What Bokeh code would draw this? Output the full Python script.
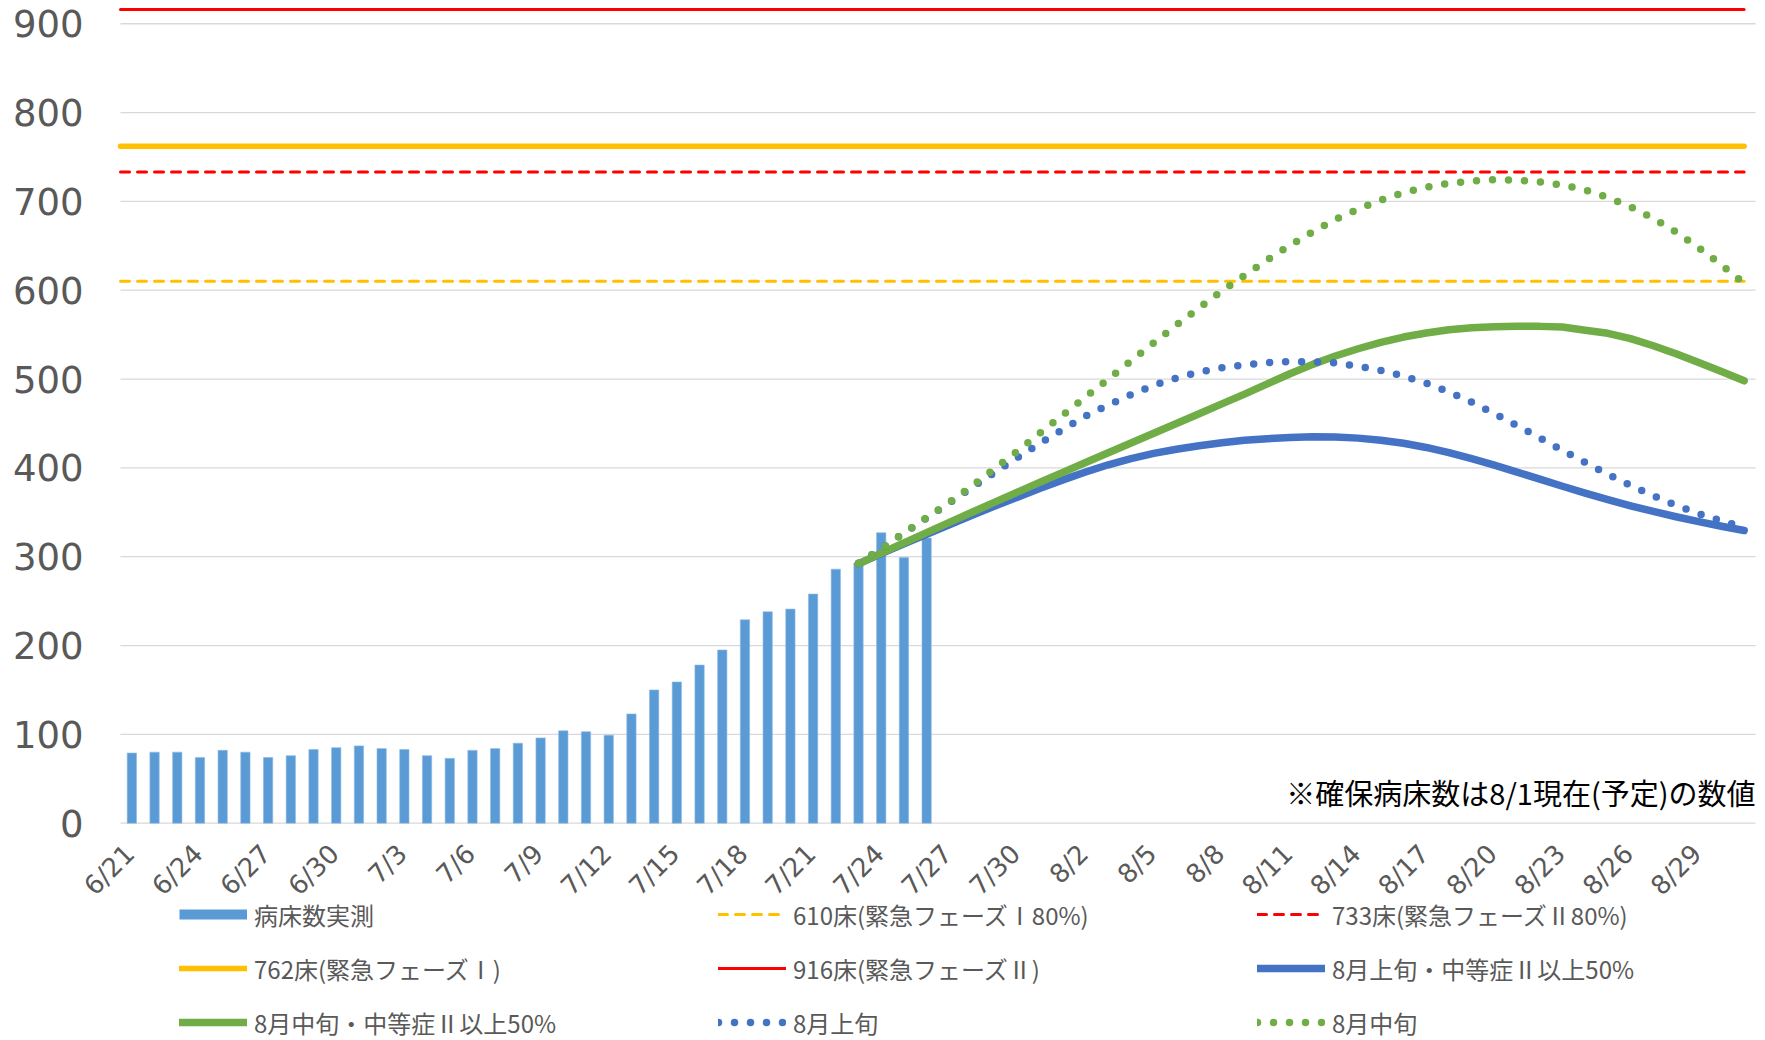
import math
import pandas as pd
from bokeh.plotting import figure
from bokeh.models import Range1d, Legend, LegendItem, Label
from bokeh.core.properties import value
from bokeh.embed import file_html
from bokeh.resources import INLINE

LATIN = "DejaVu Sans"
CJK = "Noto Sans CJK JP"

# ---- data ----
dates = [f"{d.month}/{d.day}" for d in pd.date_range("2021-06-21", "2021-08-31")]
shown_labels = dates[::3]

bed_dates = dates[:36]
beds = [79, 80, 80, 74, 82, 80, 74, 76, 83, 85, 87, 84, 83, 76, 73, 82, 84, 90,
        96, 104, 103, 99, 123, 150, 159, 178, 195, 229, 238, 241, 258, 286, 293,
        327, 299, 321]

proj_dates = dates[32:]
early_aug_mod = [292, 303.5, 314.5, 325.3, 336, 346.5, 357, 367, 377, 386.5,
                 395.3, 403.5, 410.5, 416.3, 421, 425, 428.3, 431, 432.8, 434.2,
                 435, 434.7, 433.5, 431.2, 427.7, 423, 417.2, 410.3, 403, 395.3,
                 387.3, 379.3, 371.5, 364.2, 357.3, 351, 345, 339.5, 334.3, 329.5]
mid_aug_mod = [292, 304, 315.6, 327.2, 338.7, 350.1, 361.4, 372.7, 383.9, 395,
               406, 417, 428, 439, 450, 461, 472, 483, 494.5, 506,
               516.5, 525.9, 534.1, 541.3, 547.3, 551.8, 555.5, 557.8, 558.9, 559.3,
               559.3, 558.5, 555, 551.5, 545.5, 537.5, 528.5, 518.5, 508.5, 498]
early_aug = [292.5, 309, 326.5, 343.5, 360.5, 378, 394.8, 411.5, 428, 443.3,
             458.3, 470.9, 482.4, 492.9, 501.1, 507.8, 512.6, 516, 518.4, 519.6,
             519.5, 518.1, 514.6, 509.8, 503.3, 495.3, 485.4, 474.1, 461.2, 447.5,
             433.8, 419.8, 406, 392.7, 380.2, 368.5, 357.9, 348.5, 340.3, 333]
mid_aug = [292.5, 309, 326.5, 343.9, 361.2, 379.8, 399.4, 418.9, 439.3, 459.6,
           479.9, 500, 520.6, 540.7, 560.8, 580.1, 599.2, 616.8, 634.1, 650.5,
           665.6, 679.6, 691.3, 701.5, 710, 716, 720.3, 722.8, 724.4, 723.8,
           721.9, 718.4, 712.9, 704.3, 693.7, 680.9, 665.6, 647.8, 628.5, 608]

thr_610, thr_733, thr_762, thr_916 = 610, 733, 762, 916
y_ticks = [0, 100, 200, 300, 400, 500, 600, 700, 800, 900]
y_tick_labels = [str(t) for t in y_ticks]

names = ["病床数実測", "610床(緊急フェーズⅠ80%)", "733床(緊急フェーズⅡ80%)",
         "762床(緊急フェーズⅠ)", "916床(緊急フェーズⅡ)", "8月上旬・中等症Ⅱ以上50%",
         "8月中旬・中等症Ⅱ以上50%", "8月上旬", "8月中旬"]
note = "※確保病床数は8/1現在(予定)の数値"

# ---- colours ----
BAR = "#5B9BD5"
BLUE = "#4472C4"
GREEN = "#70AD47"
YELLOW = "#FFC000"
RED = "#FF0000"
GRID = "#D9D9D9"
TXT = "#595959"

# ---- layout (pixels) ----
W, H = 1764, 1039
FRAME_LEFT, FRAME_RIGHT = 120, 1755   # plot-area edges
ZERO_PX = 822.7                       # screen y of value 0
PX_PER_UNIT = 0.8883                  # screen px per value unit
N = len(dates)
CAT_W = (FRAME_RIGHT - FRAME_LEFT) / N

# category i occupies [i, i+1] on the x scale
pos = {d: i + 0.5 for i, d in enumerate(dates)}

p = figure(width=W, height=H,
           x_range=Range1d(-FRAME_LEFT / CAT_W, N + (W - FRAME_RIGHT) / CAT_W),
           y_range=Range1d(-(H - ZERO_PX) / PX_PER_UNIT, ZERO_PX / PX_PER_UNIT),
           x_axis_type=None, y_axis_type=None,
           output_backend="svg", toolbar_location=None,
           min_border_left=0, min_border_right=0, min_border_top=0,
           min_border_bottom=0)
p.outline_line_color = None
p.background_fill_color = "white"
p.border_fill_color = "white"

# value gridlines across the plot area + value labels
p.segment(x0=[0] * len(y_ticks), x1=[N] * len(y_ticks), y0=y_ticks, y1=y_ticks,
          line_color=GRID, line_width=1.3)
p.text(x=[0] * len(y_ticks), y=y_ticks, text=y_tick_labels, x_offset=-37,
       text_align="right", text_baseline="middle", text_font=value(LATIN),
       text_font_size="37px", text_color=TXT)

# category labels (rotated, every third day)
p.text(x=[pos[d] for d in shown_labels], y=[0] * len(shown_labels), text=shown_labels,
       angle=math.pi / 4, text_align="right", text_baseline="middle",
       x_offset=-2, y_offset=26, text_font=value(LATIN),
       text_font_size="26px", text_color=TXT)

# bars
bar_x = [pos[d] for d in bed_dates]
bar_r = p.vbar(x=bar_x, top=beds, width=0.41, fill_color=BAR,
               line_color="#8DB9E6", line_width=0.6)
bar_key = p.line(x=bar_x[:1], y=beds[:1], line_color=BAR, line_width=10,
                 line_cap="butt")

# thresholds (from the left plot-area edge to the last category)
def hline(v, color, width, dash):
    return p.line(x=[0, pos[dates[-1]]], y=[v, v], line_color=color,
                  line_width=width, line_dash=dash, line_cap="round")

r610 = hline(thr_610, YELLOW, 3, "9 8")
r733 = hline(thr_733, RED, 3, "9 8")
r762 = hline(thr_762, YELLOW, 5.5, "solid")
r916 = hline(thr_916, RED, 3, "solid")

# projections
proj_x = [pos[d] for d in proj_dates]
r_bm = p.line(proj_x, early_aug_mod, line_color=BLUE, line_width=7.5,
              line_cap="round", line_join="round")
r_gm = p.line(proj_x, mid_aug_mod, line_color=GREEN, line_width=7.5,
              line_cap="round", line_join="round")
r_bd = p.line(proj_x, early_aug, line_color=BLUE, line_width=7.5,
              line_dash="0 16", line_cap="round")
r_gd = p.line(proj_x, mid_aug, line_color=GREEN, line_width=7.5,
              line_dash="0 16", line_cap="round")

renderers = [bar_key, r610, r733, r762, r916, r_bm, r_gm, r_bd, r_gd]
legend = Legend(items=[LegendItem(label=n, renderers=[r]) for n, r in zip(names, renderers)],
                location=(179, -1), orientation="horizontal", ncols=3,
                glyph_width=68, glyph_height=36, label_height=36, label_width=446,
                label_standoff=7, spacing=18, padding=0, margin=0,
                border_line_color=None, background_fill_color=None,
                label_text_font=CJK, label_text_font_size="24px",
                label_text_color=TXT)
p.add_layout(legend)

p.add_layout(Label(x=N, y=35, text=note, text_align="right",
                   text_baseline="middle", text_font=CJK, text_font_size="29px",
                   text_color="#000000"))

open("out.html", "w").write(file_html(p, INLINE))
